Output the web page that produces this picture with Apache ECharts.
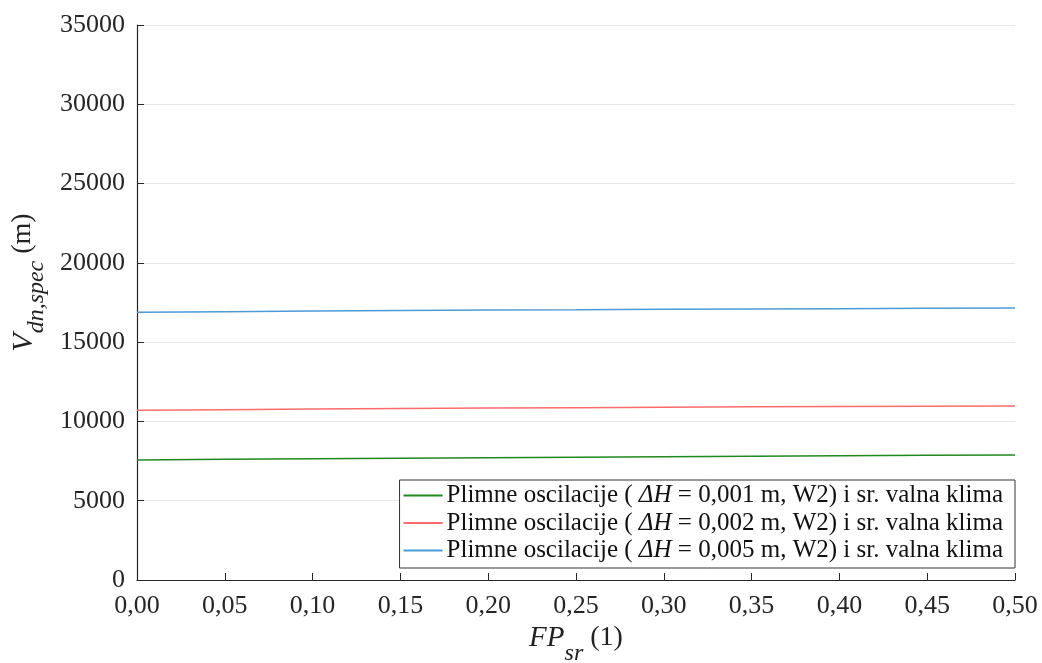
<!DOCTYPE html>
<html>
<head>
<meta charset="utf-8">
<script src="https://cdn.jsdelivr.net/npm/echarts@6/dist/echarts.min.js"></script>
<style>
  html, body { margin: 0; padding: 0; background: #fff; }
  #main { width: 1042px; height: 663px; }
</style>
</head>
<body>
<div id="main"></div>
<script>
// FP_sr (1)
var fpSr = [0, 0.05, 0.10, 0.15, 0.20, 0.25, 0.30, 0.35, 0.40, 0.45, 0.50];
// V_dn,spec (m)
var dh001 = [7570, 7610, 7650, 7680, 7710, 7740, 7770, 7800, 7830, 7860, 7880];
var dh002 = [10700, 10740, 10780, 10810, 10840, 10870, 10900, 10920, 10940, 10960, 10975];
var dh005 = [16880, 16920, 16960, 16990, 17020, 17040, 17070, 17090, 17110, 17130, 17150];
var seriesNames = ['0,001', '0,002', '0,005'];

(function () {
    var myChart = echarts.init(document.getElementById('main'));
    var font = '"Liberation Serif", "Times New Roman", serif';

    function pairs(ys) {
        return ys.map(function (y, i) { return [fpSr[i], y]; });
    }

    var option = {
        backgroundColor: '#fff',
        animation: false,
        grid: { left: 137, right: 27, top: 25, bottom: 83, containLabel: false, outerBoundsMode: 'none' },
        legend: {
            orient: 'vertical',
            right: 27,
            bottom: 95,
            backgroundColor: '#fff',
            borderColor: '#333',
            borderWidth: 1,
            borderRadius: 0,
            padding: [3, 12, 5, 4],
            itemGap: 2.5,
            itemWidth: 39,
            itemHeight: 2,
            icon: 'rect',
            data: seriesNames,
            formatter: function (name) {
                return 'Plimne oscilacije ( {i|ΔH} = ' + name + ' m, W2) i sr. valna klima';
            },
            textStyle: {
                fontFamily: font,
                fontSize: 25,
                lineHeight: 25,
                color: '#111',
                padding: [0, 0, 0, -1],
                rich: {
                    i: { fontFamily: font, fontSize: 25, lineHeight: 25, fontStyle: 'italic', color: '#111' }
                }
            }
        },
        xAxis: {
            type: 'value',
            min: 0,
            max: 0.5,
            interval: 0.05,
            name: '{v|FP}{s|sr}{n| (1)}',
            nameLocation: 'middle',
            nameGap: 43,
            nameTextStyle: {
                fontFamily: font,
                rich: {
                    v: { fontFamily: font, fontSize: 29, fontStyle: 'italic', color: '#222', verticalAlign: 'top', lineHeight: 30 },
                    s: { fontFamily: font, fontSize: 24, fontStyle: 'italic', color: '#222', verticalAlign: 'top', lineHeight: 24, padding: [18, 0, 0, 0] },
                    n: { fontFamily: font, fontSize: 28, color: '#222', verticalAlign: 'top', lineHeight: 30 }
                }
            },
            axisLine: { show: true, lineStyle: { color: '#262626', width: 1.2 } },
            axisTick: { show: true, inside: true, length: 7, lineStyle: { color: '#262626' } },
            splitLine: { show: false },
            axisLabel: {
                fontFamily: font,
                fontSize: 26,
                color: '#262626',
                margin: 13,
                formatter: function (v) { return v.toFixed(2).replace('.', ','); }
            }
        },
        yAxis: {
            type: 'value',
            min: 0,
            max: 35000,
            interval: 5000,
            name: '{v|V}{s|dn,spec}{n| (m)}',
            nameLocation: 'middle',
            nameRotate: 90,
            nameGap: 82,
            nameTextStyle: {
                fontFamily: font,
                padding: [0, 0, 0, 40],
                rich: {
                    v: { fontFamily: font, fontSize: 30, fontStyle: 'italic', color: '#222', verticalAlign: 'top', lineHeight: 30 },
                    s: { fontFamily: font, fontSize: 24, fontStyle: 'italic', color: '#222', verticalAlign: 'top', lineHeight: 24, padding: [16, 0, 0, 0] },
                    n: { fontFamily: font, fontSize: 28, color: '#222', verticalAlign: 'top', lineHeight: 30 }
                }
            },
            axisLine: { show: true, lineStyle: { color: '#262626', width: 1.2 } },
            axisTick: { show: true, inside: true, length: 7, lineStyle: { color: '#262626' } },
            splitLine: { show: true, lineStyle: { color: '#e6e6e6', width: 1 } },
            axisLabel: {
                fontFamily: font,
                fontSize: 26,
                color: '#262626',
                margin: 12,
                formatter: function (v) { return String(v); }
            }
        },
        series: [
            {
                name: seriesNames[0], type: 'line', symbol: 'none',
                itemStyle: { color: '#1f8a1f' },
                lineStyle: { color: '#1f8a1f', width: 1.5 },
                data: pairs(dh001)
            },
            {
                name: seriesNames[1], type: 'line', symbol: 'none',
                itemStyle: { color: '#ff6b6b' },
                lineStyle: { color: '#ff6b6b', width: 1.5 },
                data: pairs(dh002)
            },
            {
                name: seriesNames[2], type: 'line', symbol: 'none',
                itemStyle: { color: '#4b9bd8' },
                lineStyle: { color: '#4b9bd8', width: 1.5 },
                data: pairs(dh005)
            }
        ]
    };
    myChart.setOption(option);
})();
</script>
</body>
</html>
